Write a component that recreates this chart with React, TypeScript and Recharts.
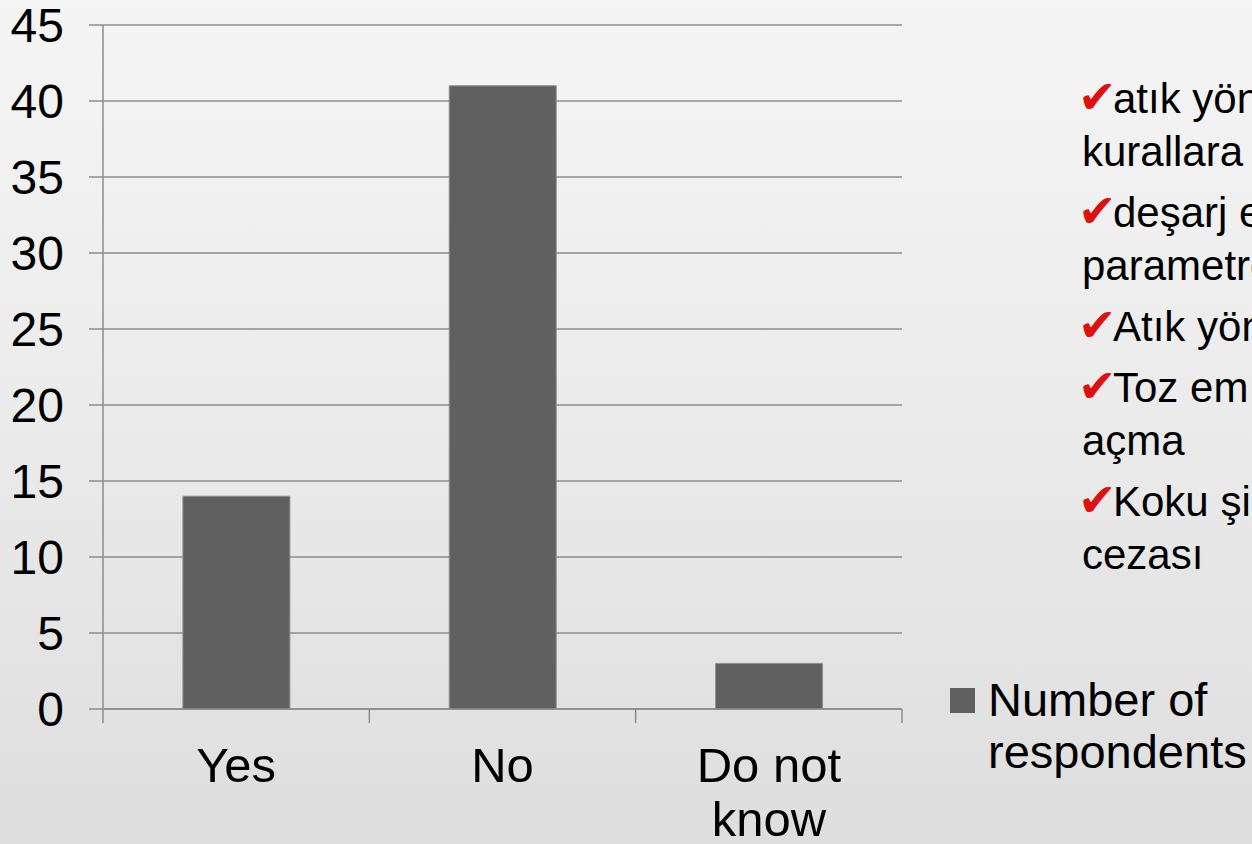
import React from 'react';
import { BarChart, Bar, XAxis, YAxis, CartesianGrid, Legend } from 'recharts';

const categories = ['Yes', 'No', 'Do not know'];
const respondents = [14, 41, 3];
const yTicks = [0, 5, 10, 15, 20, 25, 30, 35, 40, 45];
const seriesName = 'Number of respondents';
const bulletItems = [
  ['atık yön', 'kurallara'],
  ['deşarj e', 'parametre'],
  ['Atık yön'],
  ['Toz em', 'açma'],
  ['Koku şi', 'cezası'],
];

const data = categories.map((c, i) => ({ category: c, value: respondents[i] }));

const FONT = 'Arial, "Liberation Sans", sans-serif';
const GRID = '#8c8c8c';
const BAR = '#606060';

let ctx: CanvasRenderingContext2D | null = null;
function wrapText(text: string, fontSize: number, maxWidth: number): string[] {
  if (!ctx) {
    const c = document.createElement('canvas');
    ctx = c.getContext('2d');
  }
  const words = String(text).split(' ');
  if (!ctx) return [String(text)];
  ctx.font = `${fontSize}px ${FONT}`;
  const lines: string[] = [];
  let cur = '';
  words.forEach((w) => {
    const trial = cur ? cur + ' ' + w : w;
    if (cur && ctx!.measureText(trial).width > maxWidth) {
      lines.push(cur);
      cur = w;
    } else {
      cur = trial;
    }
  });
  if (cur) lines.push(cur);
  return lines;
}

function XTick(props: any) {
  const { x, y, payload, index, width, visibleTicksCount } = props;
  const lines = wrapText(payload.value, 49, 220);
  const count = visibleTicksCount || categories.length;
  const half = typeof width === 'number' && width > 0 ? width / count / 2 : 0;
  return (
    <g>
      {half > 0 && (
        <line x1={x - half} x2={x - half} y1={y - 14} y2={y} stroke={GRID} strokeWidth={1.5} />
      )}
      {half > 0 && index === count - 1 && (
        <line x1={x + half} x2={x + half} y1={y - 14} y2={y} stroke={GRID} strokeWidth={1.5} />
      )}
      <text x={x} y={y + 59} textAnchor="middle" fill="#000" fontSize={49} fontFamily={FONT}>
        {lines.map((l, i) => (
          <tspan key={i} x={x} dy={i === 0 ? 0 : 54}>
            {l}
          </tspan>
        ))}
      </text>
    </g>
  );
}

function LegendContent(props: any) {
  const payload = props.payload || [];
  return (
    <svg width={307} height={120} style={{ display: 'block' }}>
      {payload.map((p: any, i: number) => {
        const lines = wrapText(p.value, 47, 262);
        return (
          <g key={i}>
            <rect x={5} y={18} width={25} height={25} fill={p.color} />
            <text x={43} y={46} fill="#000" fontSize={47} fontFamily={FONT}>
              {lines.map((l, j) => (
                <tspan key={j} x={43} dy={j === 0 ? 0 : 52}>
                  {l}
                </tspan>
              ))}
            </text>
          </g>
        );
      })}
    </svg>
  );
}

function Bullets() {
  const rows: { check: boolean; text: string; y: number }[] = [];
  let y = 113;
  bulletItems.forEach((item, i) => {
    if (i > 0) y += 61;
    item.forEach((t, j) => {
      if (j > 0) y += 53;
      rows.push({ check: j === 0, text: t, y });
    });
  });
  return (
    <svg width={1252} height={844} style={{ position: 'absolute', left: 0, top: 0, pointerEvents: 'none' }}>
      {rows.map((r, i) => (
        <g key={i}>
          {r.check && (
            <text x={1078} y={r.y} fontSize={46} fill="#dd1111" fontFamily='"DejaVu Sans", sans-serif'>
              ✔
            </text>
          )}
          <text x={r.check ? 1113 : 1082} y={r.y} fontSize={42} fill="#000" fontFamily={FONT}>
            {r.text}
          </text>
        </g>
      ))}
    </svg>
  );
}

export default function App() {
  return (
    <div
      style={{
        position: 'absolute',
        left: 0,
        top: 0,
        width: 1252,
        height: 844,
        overflow: 'hidden',
        background: 'linear-gradient(180deg, #f5f5f5 0%, #ececec 45%, #dedede 100%)',
        fontFamily: FONT,
      }}
    >
      <BarChart
        width={1252}
        height={844}
        data={data}
        margin={{ top: 25, right: 350, bottom: 0, left: 0 }}
        barCategoryGap="30%"
      >
        <CartesianGrid horizontal vertical={false} stroke={GRID} strokeWidth={1.5} />
        <XAxis
          dataKey="category"
          height={135}
          interval={0}
          tickLine={false}
          tickSize={14}
          tickMargin={0}
          axisLine={{ stroke: GRID, strokeWidth: 1.5 }}
          tick={<XTick />}
        />
        <YAxis
          width={103}
          domain={[0, 45]}
          ticks={yTicks}
          interval={0}
          tickSize={14}
          tickMargin={25}
          tickLine={{ stroke: GRID, strokeWidth: 1.5 }}
          axisLine={{ stroke: GRID, strokeWidth: 1.5 }}
          tick={{ fontSize: 48, fill: '#000', fontFamily: FONT }}
        />
        <Legend
          layout="vertical"
          align="center"
          verticalAlign="middle"
          width={307}
          wrapperStyle={{ left: 945, top: 670, width: 307 }}
          content={<LegendContent />}
        />
        <Bar
          dataKey="value"
          name={seriesName}
          fill={BAR}
          stroke="#8f8f8f"
          strokeWidth={1}
          isAnimationActive={false}
        />
      </BarChart>
      <Bullets />
    </div>
  );
}
